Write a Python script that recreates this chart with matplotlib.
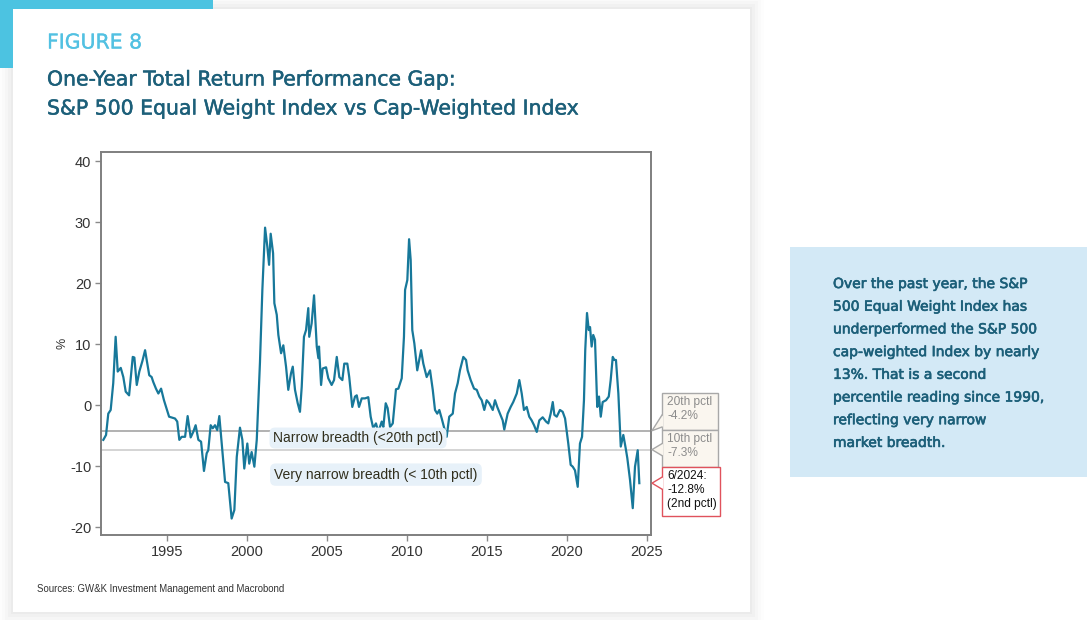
import matplotlib
matplotlib.use("Agg")
import matplotlib.pyplot as plt
import matplotlib.patheffects as pe
from matplotlib.patches import Rectangle, Polygon
import numpy as np

W, H = 1087, 620
plt.rcParams["axes.unicode_minus"] = False

# one-year return gap, equal weight minus cap weighted (%)
years = [1991.02, 1991.19, 1991.33, 1991.48, 1991.64, 1991.79, 1991.92, 1992.11, 1992.27, 1992.42,
         1992.63, 1992.86, 1992.96, 1993.11, 1993.27, 1993.46, 1993.63, 1993.77, 1993.89, 1994.04,
         1994.14, 1994.31, 1994.46, 1994.63, 1994.81, 1995.13, 1995.50, 1995.64, 1995.77, 1995.92,
         1996.13, 1996.29, 1996.48, 1996.64, 1996.79, 1996.96, 1997.13, 1997.31, 1997.48, 1997.58,
         1997.73, 1997.86, 1998.00, 1998.14, 1998.27, 1998.46, 1998.63, 1998.83, 1999.04, 1999.21,
         1999.36, 1999.56, 1999.71, 1999.83, 2000.02, 2000.14, 2000.29, 2000.46, 2000.61, 2000.81,
         2000.96, 2001.13, 2001.27, 2001.38, 2001.48, 2001.63, 2001.71, 2001.86, 2001.96, 2002.13,
         2002.27, 2002.44, 2002.58, 2002.75, 2002.86, 2003.00, 2003.17, 2003.31, 2003.42, 2003.56,
         2003.69, 2003.83, 2003.89, 2004.04, 2004.19, 2004.36, 2004.46, 2004.50, 2004.63, 2004.73,
         2004.94, 2005.08, 2005.29, 2005.44, 2005.61, 2005.77, 2005.96, 2006.08, 2006.27, 2006.39,
         2006.58, 2006.75, 2006.86, 2007.00, 2007.17, 2007.38, 2007.58, 2007.73, 2007.89, 2008.06,
         2008.21, 2008.42, 2008.52, 2008.67, 2008.79, 2008.94, 2009.11, 2009.31, 2009.46, 2009.67,
         2009.81, 2009.88, 2010.02, 2010.13, 2010.23, 2010.33, 2010.46, 2010.64, 2010.88, 2011.02,
         2011.23, 2011.44, 2011.61, 2011.75, 2011.89, 2012.02, 2012.17, 2012.33, 2012.48, 2012.64,
         2012.86, 2013.00, 2013.17, 2013.31, 2013.52, 2013.69, 2013.79, 2013.98, 2014.19, 2014.36,
         2014.52, 2014.67, 2014.83, 2014.98, 2015.14, 2015.36, 2015.50, 2015.64, 2015.81, 2015.98,
         2016.08, 2016.29, 2016.48, 2016.64, 2016.86, 2017.02, 2017.17, 2017.31, 2017.48, 2017.64,
         2017.79, 2017.94, 2018.11, 2018.27, 2018.48, 2018.69, 2018.83, 2018.98, 2019.11, 2019.21,
         2019.36, 2019.56, 2019.73, 2019.88, 2020.08, 2020.23, 2020.36, 2020.50, 2020.67, 2020.81,
         2020.94, 2021.06, 2021.14, 2021.25, 2021.36, 2021.44, 2021.54, 2021.64, 2021.75, 2021.89,
         2022.00, 2022.11, 2022.23, 2022.44, 2022.61, 2022.73, 2022.86, 2022.96, 2023.06, 2023.21,
         2023.36, 2023.52, 2023.67, 2023.77, 2023.94, 2024.11, 2024.25, 2024.42, 2024.52]
gap = [-5.7, -4.9, -1.4, -0.8, 3.6, 11.2, 5.5, 6.1, 4.6, 2.2,
       1.6, 7.9, 7.8, 3.3, 5.5, 7.2, 9.0, 6.8, 4.9, 4.6,
       3.8, 2.7, 1.9, 2.7, 0.8, -1.9, -2.2, -2.7, -5.7, -5.2,
       -5.2, -1.8, -5.3, -4.4, -3.3, -5.7, -6.0, -10.8, -7.9, -7.4,
       -3.3, -3.8, -3.3, -4.1, -1.8, -7.4, -12.6, -12.8, -18.6, -17.2,
       -8.5, -3.7, -5.7, -10.4, -6.3, -9.6, -7.7, -10.1, -5.7, 7.0,
       18.9, 29.1, 26.0, 23.0, 28.1, 24.9, 16.7, 14.8, 11.5, 8.5,
       9.8, 6.3, 2.5, 5.2, 6.3, 2.5, 0.3, -1.1, 3.0, 11.2,
       12.3, 15.9, 11.2, 13.4, 18.0, 9.6, 7.7, 9.6, 3.3, 6.0,
       6.2, 4.4, 3.3, 4.1, 7.9, 4.6, 4.1, 6.8, 6.8, 4.6,
       -0.3, 1.4, 1.6, -0.3, 1.1, 1.1, 1.3, -1.9, -3.8, -3.0,
       -4.4, -2.7, -3.6, 0.3, -0.5, -3.6, -3.0, 2.6, 2.7, 4.4,
       11.2, 18.9, 20.5, 27.2, 23.8, 12.3, 10.1, 5.7, 9.0, 6.8,
       4.6, 5.7, 2.5, -0.8, -1.4, -0.8, -2.2, -3.8, -5.2, -1.9,
       -1.4, 1.9, 3.6, 5.7, 7.9, 7.4, 5.7, 4.1, 2.7, 2.5,
       1.4, 0.8, -0.8, 0.8, 0.3, -0.8, 0.8, -0.3, -1.4, -2.5,
       -4.0, -1.4, -0.3, 0.5, 1.9, 4.1, 1.9, -0.8, -0.3, -1.9,
       -2.5, -3.3, -4.4, -2.5, -2.0, -2.7, -3.0, -1.4, 0.5, -1.6,
       -1.9, -0.8, -1.1, -2.2, -6.3, -9.8, -10.1, -10.7, -13.4, -6.3,
       -5.2, 0.8, 9.0, 15.1, 12.3, 12.8, 9.6, 11.5, 10.7, -0.3,
       1.4, -1.9, 0.5, 0.8, 1.4, 4.1, 7.9, 7.4, 7.4, 1.9,
       -6.8, -4.9, -7.1, -8.7, -12.3, -16.9, -10.1, -7.4, -12.8]

pct20 = -4.2
pct10 = -7.3
latest = -12.8
xticks = [1995, 2000, 2005, 2010, 2015, 2020, 2025]
yticks = [-20, -10, 0, 10, 20, 30, 40]

title_lines = ["One-Year Total Return Performance Gap:",
               "S&P 500 Equal Weight Index vs Cap-Weighted Index"]
side_lines = ["Over the past year, the S&P",
              "500 Equal Weight Index has",
              "underperformed the S&P 500",
              "cap-weighted Index by nearly",
              "13%. That is a second",
              "percentile reading since 1990,",
              "reflecting very narrow",
              "market breadth."]

TEAL = "#1c5f79"
CYAN = "#4cc3e1"
LINE = "#17789a"
HEAD = "DejaVu Sans"
BODY = "Liberation Sans"


def fx(x):
    return x / W


def fy(y):
    return 1 - y / H


def thick(color, w):
    # fake a medium weight
    return [pe.withStroke(linewidth=w, foreground=color)]


fig = plt.figure(figsize=(W / 100, H / 100), dpi=100)
fig.patch.set_facecolor("white")

# card shadow + card
for i, a in enumerate([0.025, 0.02, 0.015, 0.012, 0.009]):
    d = 2 + 3 * i
    fig.patches.append(Rectangle((fx(13 - d), fy(612 + d)), fx(737 + 2 * d), (603 + 2 * d) / H,
                                 transform=fig.transFigure, fc="black", ec="none", alpha=a, zorder=0))
fig.patches.append(Rectangle((fx(13), fy(612)), fx(737), 603 / H, transform=fig.transFigure,
                             fc="white", ec="none", zorder=1))
# cyan corner accent
fig.patches.append(Rectangle((0, fy(9)), fx(213), 9 / H, transform=fig.transFigure,
                             fc=CYAN, ec="none", zorder=2))
fig.patches.append(Rectangle((0, fy(68)), fx(13), 68 / H, transform=fig.transFigure,
                             fc=CYAN, ec="none", zorder=2))

fig.text(fx(47), fy(43), "FIGURE 8", color="#52c1e2", fontsize=14.7, family=HEAD,
         va="center", ha="left", zorder=3, path_effects=thick("#52c1e2", 0.2))
for i, t in enumerate(title_lines):
    fig.text(fx(47), fy(80 + 29 * i), t, color=TEAL, fontsize=14.7, family=HEAD,
             va="center", ha="left", zorder=3, path_effects=thick(TEAL, 0.35))

# side note box
fig.patches.append(Rectangle((fx(790), fy(477)), fx(297), 230 / H, transform=fig.transFigure,
                             fc="#d3e9f6", ec="none", zorder=1))
for i, t in enumerate(side_lines):
    fig.text(fx(833), fy(284 + 22.7 * i), t, color=TEAL, fontsize=10, family=HEAD,
             va="center", ha="left", zorder=3, path_effects=thick(TEAL, 0.45))

fig.text(fx(37), fy(589), "Sources: GW&K Investment Management and Macrobond", color="#333333",
         fontsize=6.9, family=BODY, va="center", ha="left", zorder=3)

# main chart
ax = fig.add_axes([fx(101), fy(535), fx(550), 383 / H], zorder=4)
ax.set_facecolor("white")
ax.plot(years, gap, color=LINE, lw=1.6, zorder=3)
ax.axhline(pct20, color="#9c9c9c", lw=1.1, zorder=2)
ax.axhline(pct10, color="#c9c9c9", lw=1.1, zorder=2)

ax.set_xlim(1990.875, 2025.25)
ax.set_ylim(-21.3, 41.5)
ax.set_xticks(xticks)
ax.set_yticks(yticks)
for s in ax.spines.values():
    s.set_color("#7f7f7f")
    s.set_linewidth(1.4)
ax.tick_params(direction="out", length=4, width=1, color="#8a8a8a", labelsize=10.5,
               labelcolor="#333333", pad=3)
for lab in ax.get_xticklabels() + ax.get_yticklabels():
    lab.set_family(BODY)
ax.set_ylabel("%", fontsize=9, color="#333333", family=BODY, labelpad=1)

band_kw = dict(fontsize=10, family=BODY, color="#302e1c", ha="center", va="center", zorder=4)
ax.text(2006.94, -5.4, "Narrow breadth (<20th pctl)",
        bbox=dict(boxstyle="round,pad=0.25,rounding_size=0.4", fc="#e7f1f9", ec="none"), **band_kw)
ax.text(2008.06, -11.4, "Very narrow breadth (< 10th pctl)",
        bbox=dict(boxstyle="round,pad=0.3,rounding_size=0.4", fc="#e7f1f9", ec="none"), **band_kw)

# callout boxes on the right
fig.canvas.draw()
to_px = ax.transData.transform


def callout(val, top, bottom, right, lines, fc, ec, tc):
    tip_y = H - to_px((2025.25, val))[1]
    tip_x = to_px((2025.25, val))[0] + 1
    left = 662
    fig.patches.append(Rectangle((fx(left), fy(bottom)), fx(right - left), (bottom - top) / H,
                                 transform=fig.transFigure, fc=fc, ec=ec, lw=1.0, zorder=5))
    c = min(max(tip_y, top + 9), bottom - 9)
    fig.patches.append(Polygon([(fx(left + 1), fy(c - 6)), (fx(tip_x), fy(tip_y)), (fx(left + 1), fy(c + 6))],
                               closed=True, transform=fig.transFigure, fc=fc, ec="none", zorder=6))
    fig.lines.append(plt.Line2D([fx(left), fx(tip_x), fx(left)], [fy(c - 6), fy(tip_y), fy(c + 6)],
                                transform=fig.transFigure, color=ec, lw=1.0, zorder=7))
    fig.text(fx(left + 5), fy(top + 3), "\n".join(lines), color=tc, fontsize=8.6, family=BODY,
             va="top", ha="left", linespacing=1.2, zorder=8)


callout(pct20, 393, 430, 718, ["20th pctl", f"{pct20:.1f}%"], "#faf6ef", "#a8a8a8", "#8c8c8c")
callout(pct10, 430, 467, 718, ["10th pctl", f"{pct10:.1f}%"], "#faf6ef", "#a8a8a8", "#8c8c8c")
callout(latest, 467, 516, 720, ["6/2024:", f"{latest:.1f}%", "(2nd pctl)"], "white", "#e0525c", "#111111")

fig.savefig("out.png", dpi=100, facecolor="white")
